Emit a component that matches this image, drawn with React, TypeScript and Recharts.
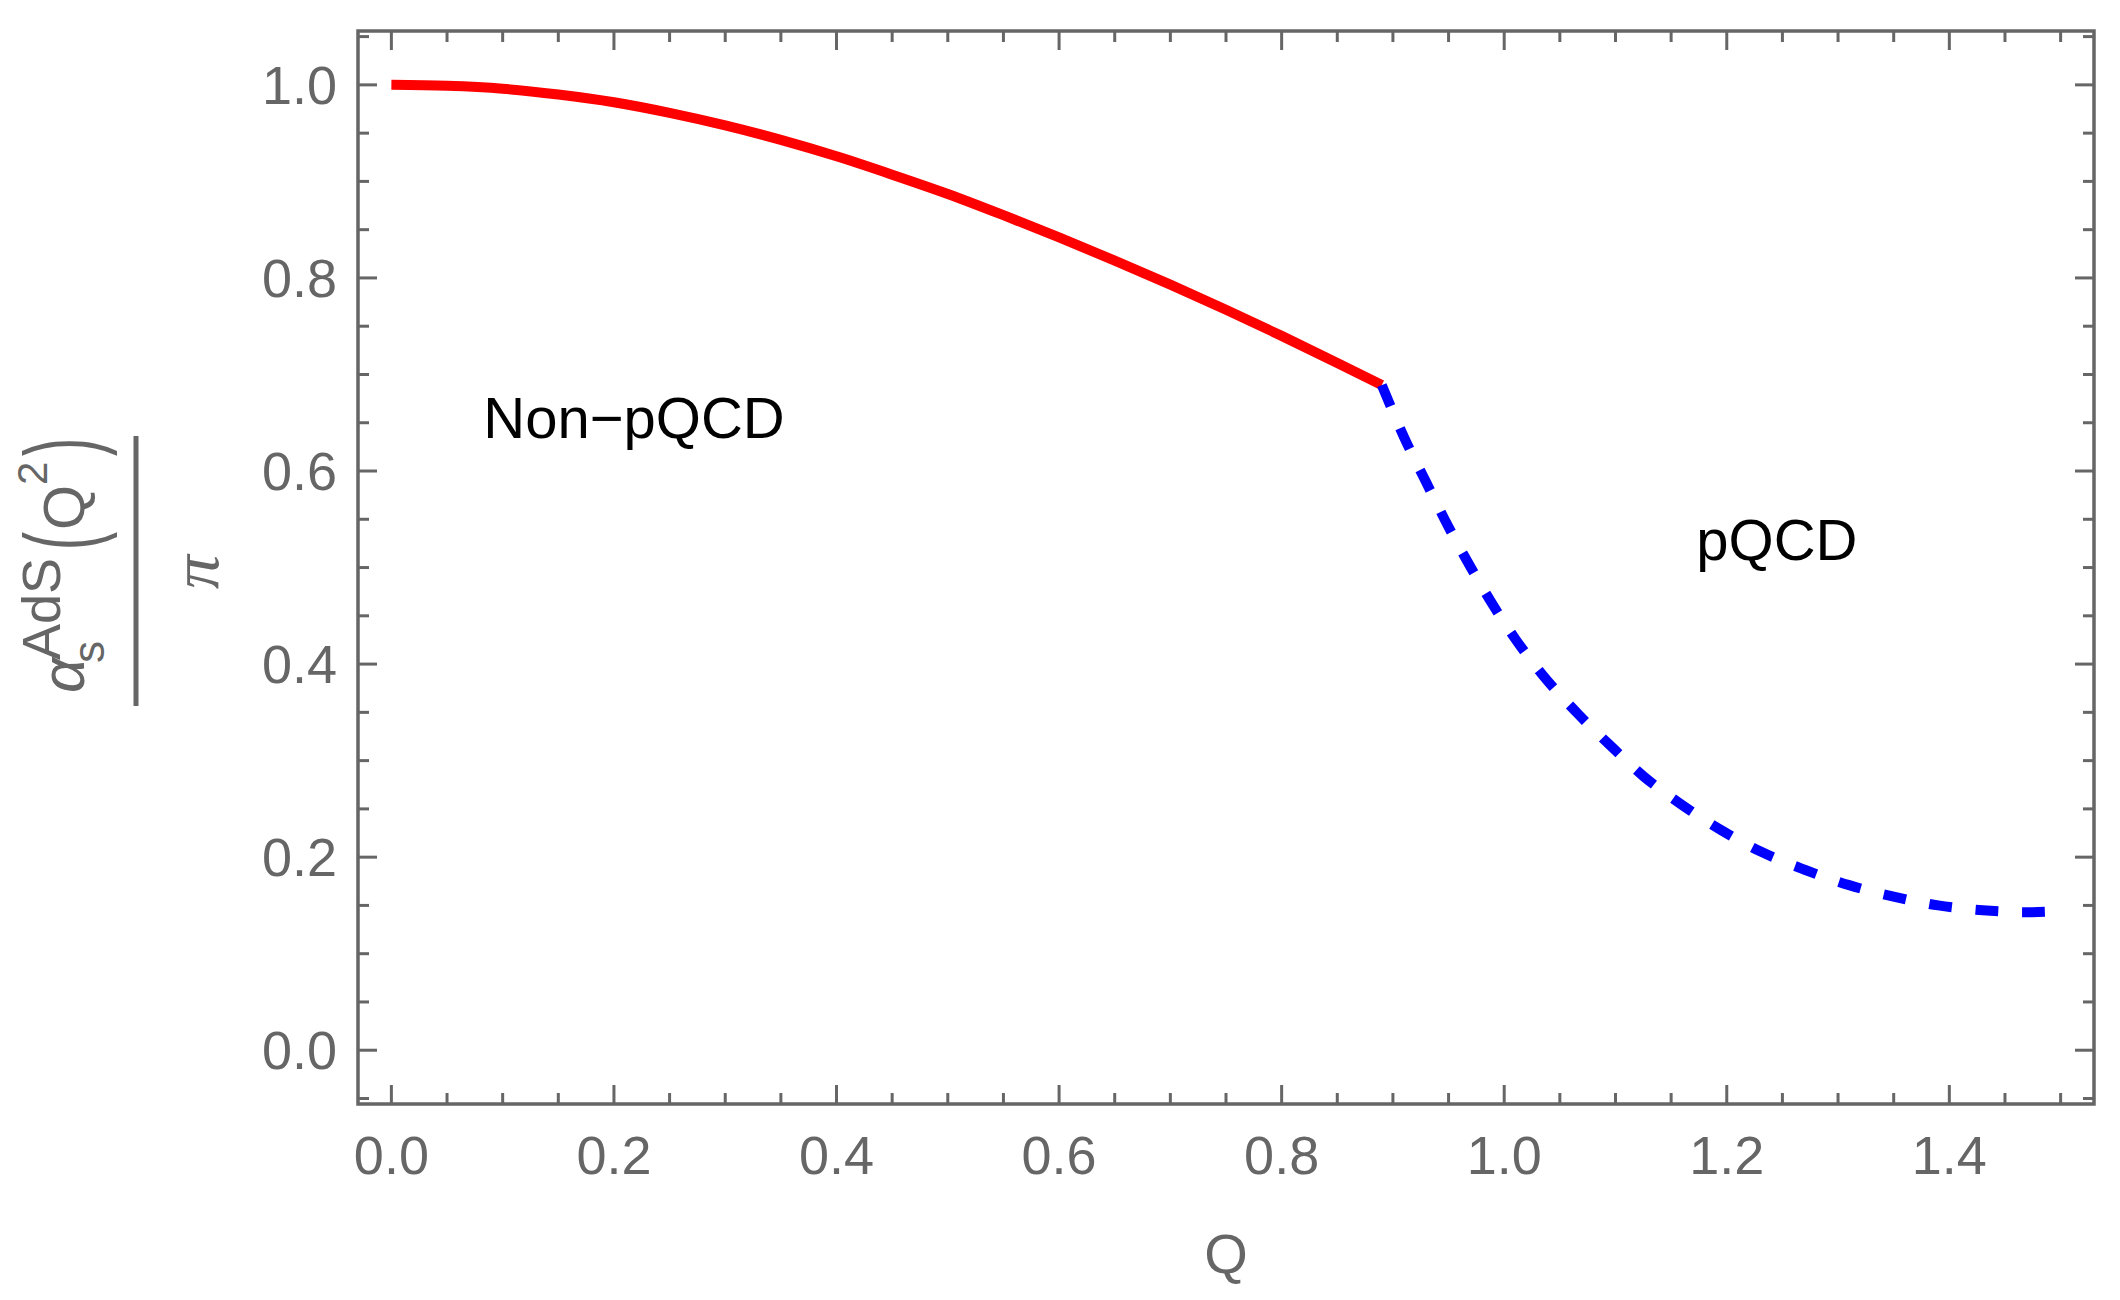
import { ComposedChart, Line, XAxis, YAxis, ReferenceArea, ReferenceDot } from 'recharts'

// Non-perturbative (AdS) branch
const redQ = [0, 0.05, 0.1, 0.15, 0.2, 0.25, 0.3, 0.35, 0.4, 0.45, 0.5, 0.55, 0.6, 0.65, 0.7, 0.75, 0.8, 0.85, 0.89]
const redV = [1.0, 0.999, 0.996, 0.99, 0.982, 0.971, 0.958, 0.943, 0.926, 0.907, 0.887, 0.865, 0.842, 0.818, 0.793, 0.767, 0.74, 0.712, 0.689]

// Perturbative branch
const blueQ = [0.89, 0.91, 0.93, 0.95, 0.97, 0.99, 1.01, 1.035, 1.065, 1.095, 1.125, 1.16, 1.195, 1.23, 1.27, 1.31, 1.35, 1.39, 1.43, 1.47, 1.5]
const blueV = [0.689, 0.635, 0.588, 0.542, 0.5, 0.461, 0.426, 0.388, 0.35, 0.316, 0.284, 0.254, 0.228, 0.206, 0.187, 0.171, 0.159, 0.15, 0.145, 0.143, 0.144]

const xMajor = [0, 0.2, 0.4, 0.6, 0.8, 1.0, 1.2, 1.4]
const yMajor = [0, 0.2, 0.4, 0.6, 0.8, 1.0]

const annotations = [
  { q: 0.218, v: 0.656, text: 'Non\u2212pQCD' },
  { q: 1.245, v: 0.53, text: 'pQCD' },
]

const X_DOMAIN = [-0.03, 1.53]
const Y_DOMAIN = [-0.0557, 1.0558]

const W = 2120
const H = 1300
const MARGIN = { top: 31, right: 26, left: 58, bottom: 36 }
const Y_AXIS_W = 300
const X_AXIS_H = 160
const PLOT_LEFT = MARGIN.left + Y_AXIS_W
const PLOT_RIGHT = W - MARGIN.right
const PLOT_TOP = MARGIN.top
const PLOT_BOTTOM = H - MARGIN.bottom - X_AXIS_H

const GRAY = '#666666'
const FONT = '"Liberation Sans", Arial, sans-serif'

const redData = redQ.map((q, i) => ({ q, v: redV[i] }))
const blueData = blueQ.map((q, i) => ({ q, v: blueV[i] }))

// minor ticks every 0.05 inside the frame
const xTicks = Array.from({ length: 31 }, (_, i) => Math.round(i * 5) / 100)
const yTicks = Array.from({ length: 23 }, (_, i) => Math.round((i - 1) * 5) / 100)

const isMajor = (v: number) => Math.abs(v * 5 - Math.round(v * 5)) < 1e-6

function XTick({ x, payload }: any) {
  const v = payload.value
  const major = isMajor(v)
  const len = major ? 19 : 11
  return (
    <g>
      <line x1={x} x2={x} y1={PLOT_BOTTOM} y2={PLOT_BOTTOM - len} stroke={GRAY} strokeWidth={3} />
      <line x1={x} x2={x} y1={PLOT_TOP} y2={PLOT_TOP + len} stroke={GRAY} strokeWidth={3} />
      {major && xMajor.some((m) => Math.abs(m - v) < 1e-6) && (
        <text x={x} y={PLOT_BOTTOM + 70} textAnchor="middle" fill={GRAY} fontSize={54} fontFamily={FONT}>
          {v.toFixed(1)}
        </text>
      )}
    </g>
  )
}

function YTick({ y, payload }: any) {
  const v = payload.value
  const major = isMajor(v)
  const len = major ? 19 : 11
  return (
    <g>
      <line x1={PLOT_LEFT} x2={PLOT_LEFT + len} y1={y} y2={y} stroke={GRAY} strokeWidth={3} />
      <line x1={PLOT_RIGHT} x2={PLOT_RIGHT - len} y1={y} y2={y} stroke={GRAY} strokeWidth={3} />
      {major && yMajor.some((m) => Math.abs(m - v) < 1e-6) && (
        <text x={PLOT_LEFT - 21} y={y + 19} textAnchor="end" fill={GRAY} fontSize={54} fontFamily={FONT}>
          {v.toFixed(1)}
        </text>
      )}
    </g>
  )
}

// one glyph run of the vertical label, anchored at (x, y) and turned to read bottom-to-top
function Up({ x, y, size, children, ...rest }: any) {
  return (
    <text x={x} y={y} fontSize={size} transform={`rotate(-90 ${x} ${y})`} {...rest}>
      {children}
    </text>
  )
}

// alpha_s^AdS(Q^2) / pi
function YLabel() {
  return (
    <g fill={GRAY} fontFamily={FONT}>
      <Up x={84} y={693} size={62} fontStyle="italic">α</Up>
      <Up x={104} y={663} size={44}>s</Up>
      <Up x={60} y={660} size={54}>AdS</Up>
      <Up x={96} y={550} size={102} textLength={18} lengthAdjust="spacingAndGlyphs">(</Up>
      <Up x={84} y={530} size={58}>Q</Up>
      <Up x={47} y={485} size={42}>2</Up>
      <Up x={96} y={456} size={102} textLength={18} lengthAdjust="spacingAndGlyphs">)</Up>
      <line x1={136} x2={136} y1={436} y2={706} stroke={GRAY} strokeWidth={5} />
      <Up x={218} y={589} size={68} fontStyle="italic" fontFamily='"Liberation Serif", serif'>π</Up>
    </g>
  )
}

function XLabel() {
  return (
    <text x={(PLOT_LEFT + PLOT_RIGHT) / 2} y={1273} textAnchor="middle" fill={GRAY} fontSize={56} fontFamily={FONT}>
      Q
    </text>
  )
}

function AnnotationLabel({ viewBox, value }: any) {
  const cx = viewBox.x + (viewBox.width || 0) / 2
  const cy = viewBox.y + (viewBox.height || 0) / 2
  return (
    <text x={cx} y={cy + 21} textAnchor="middle" fill="#000000" fontSize={58} fontFamily={FONT}>
      {value}
    </text>
  )
}

export default function App() {
  return (
    <div style={{ position: 'absolute', left: 0, top: 0, width: W, height: H, background: '#fff' }}>
      <ComposedChart width={W} height={H} margin={MARGIN}>
        <XAxis
          dataKey="q"
          type="number"
          domain={X_DOMAIN}
          allowDataOverflow
          ticks={xTicks}
          interval={0}
          tick={<XTick />}
          tickLine={false}
          axisLine={false}
          tickSize={0}
          height={X_AXIS_H}
          label={<XLabel />}
        />
        <YAxis
          type="number"
          domain={Y_DOMAIN}
          allowDataOverflow
          ticks={yTicks}
          interval={0}
          tick={<YTick />}
          tickLine={false}
          axisLine={false}
          tickSize={0}
          width={Y_AXIS_W}
          label={<YLabel />}
        />
        <ReferenceArea
          x1={X_DOMAIN[0]}
          x2={X_DOMAIN[1]}
          y1={Y_DOMAIN[0]}
          y2={Y_DOMAIN[1]}
          fill="none"
          stroke={GRAY}
          strokeWidth={3.5}
        />
        <Line
          data={redData}
          dataKey="v"
          type="monotone"
          stroke="#ff0000"
          strokeWidth={10}
          dot={false}
          isAnimationActive={false}
        />
        <Line
          data={blueData}
          dataKey="v"
          type="monotone"
          stroke="#0000ff"
          strokeWidth={10}
          strokeDasharray="22.8 23.8"
          dot={false}
          isAnimationActive={false}
        />
        {annotations.map((a) => (
          <ReferenceDot
            key={a.text}
            x={a.q}
            y={a.v}
            r={1}
            fill="none"
            stroke="none"
            label={<AnnotationLabel value={a.text} />}
          />
        ))}
      </ComposedChart>
    </div>
  )
}
